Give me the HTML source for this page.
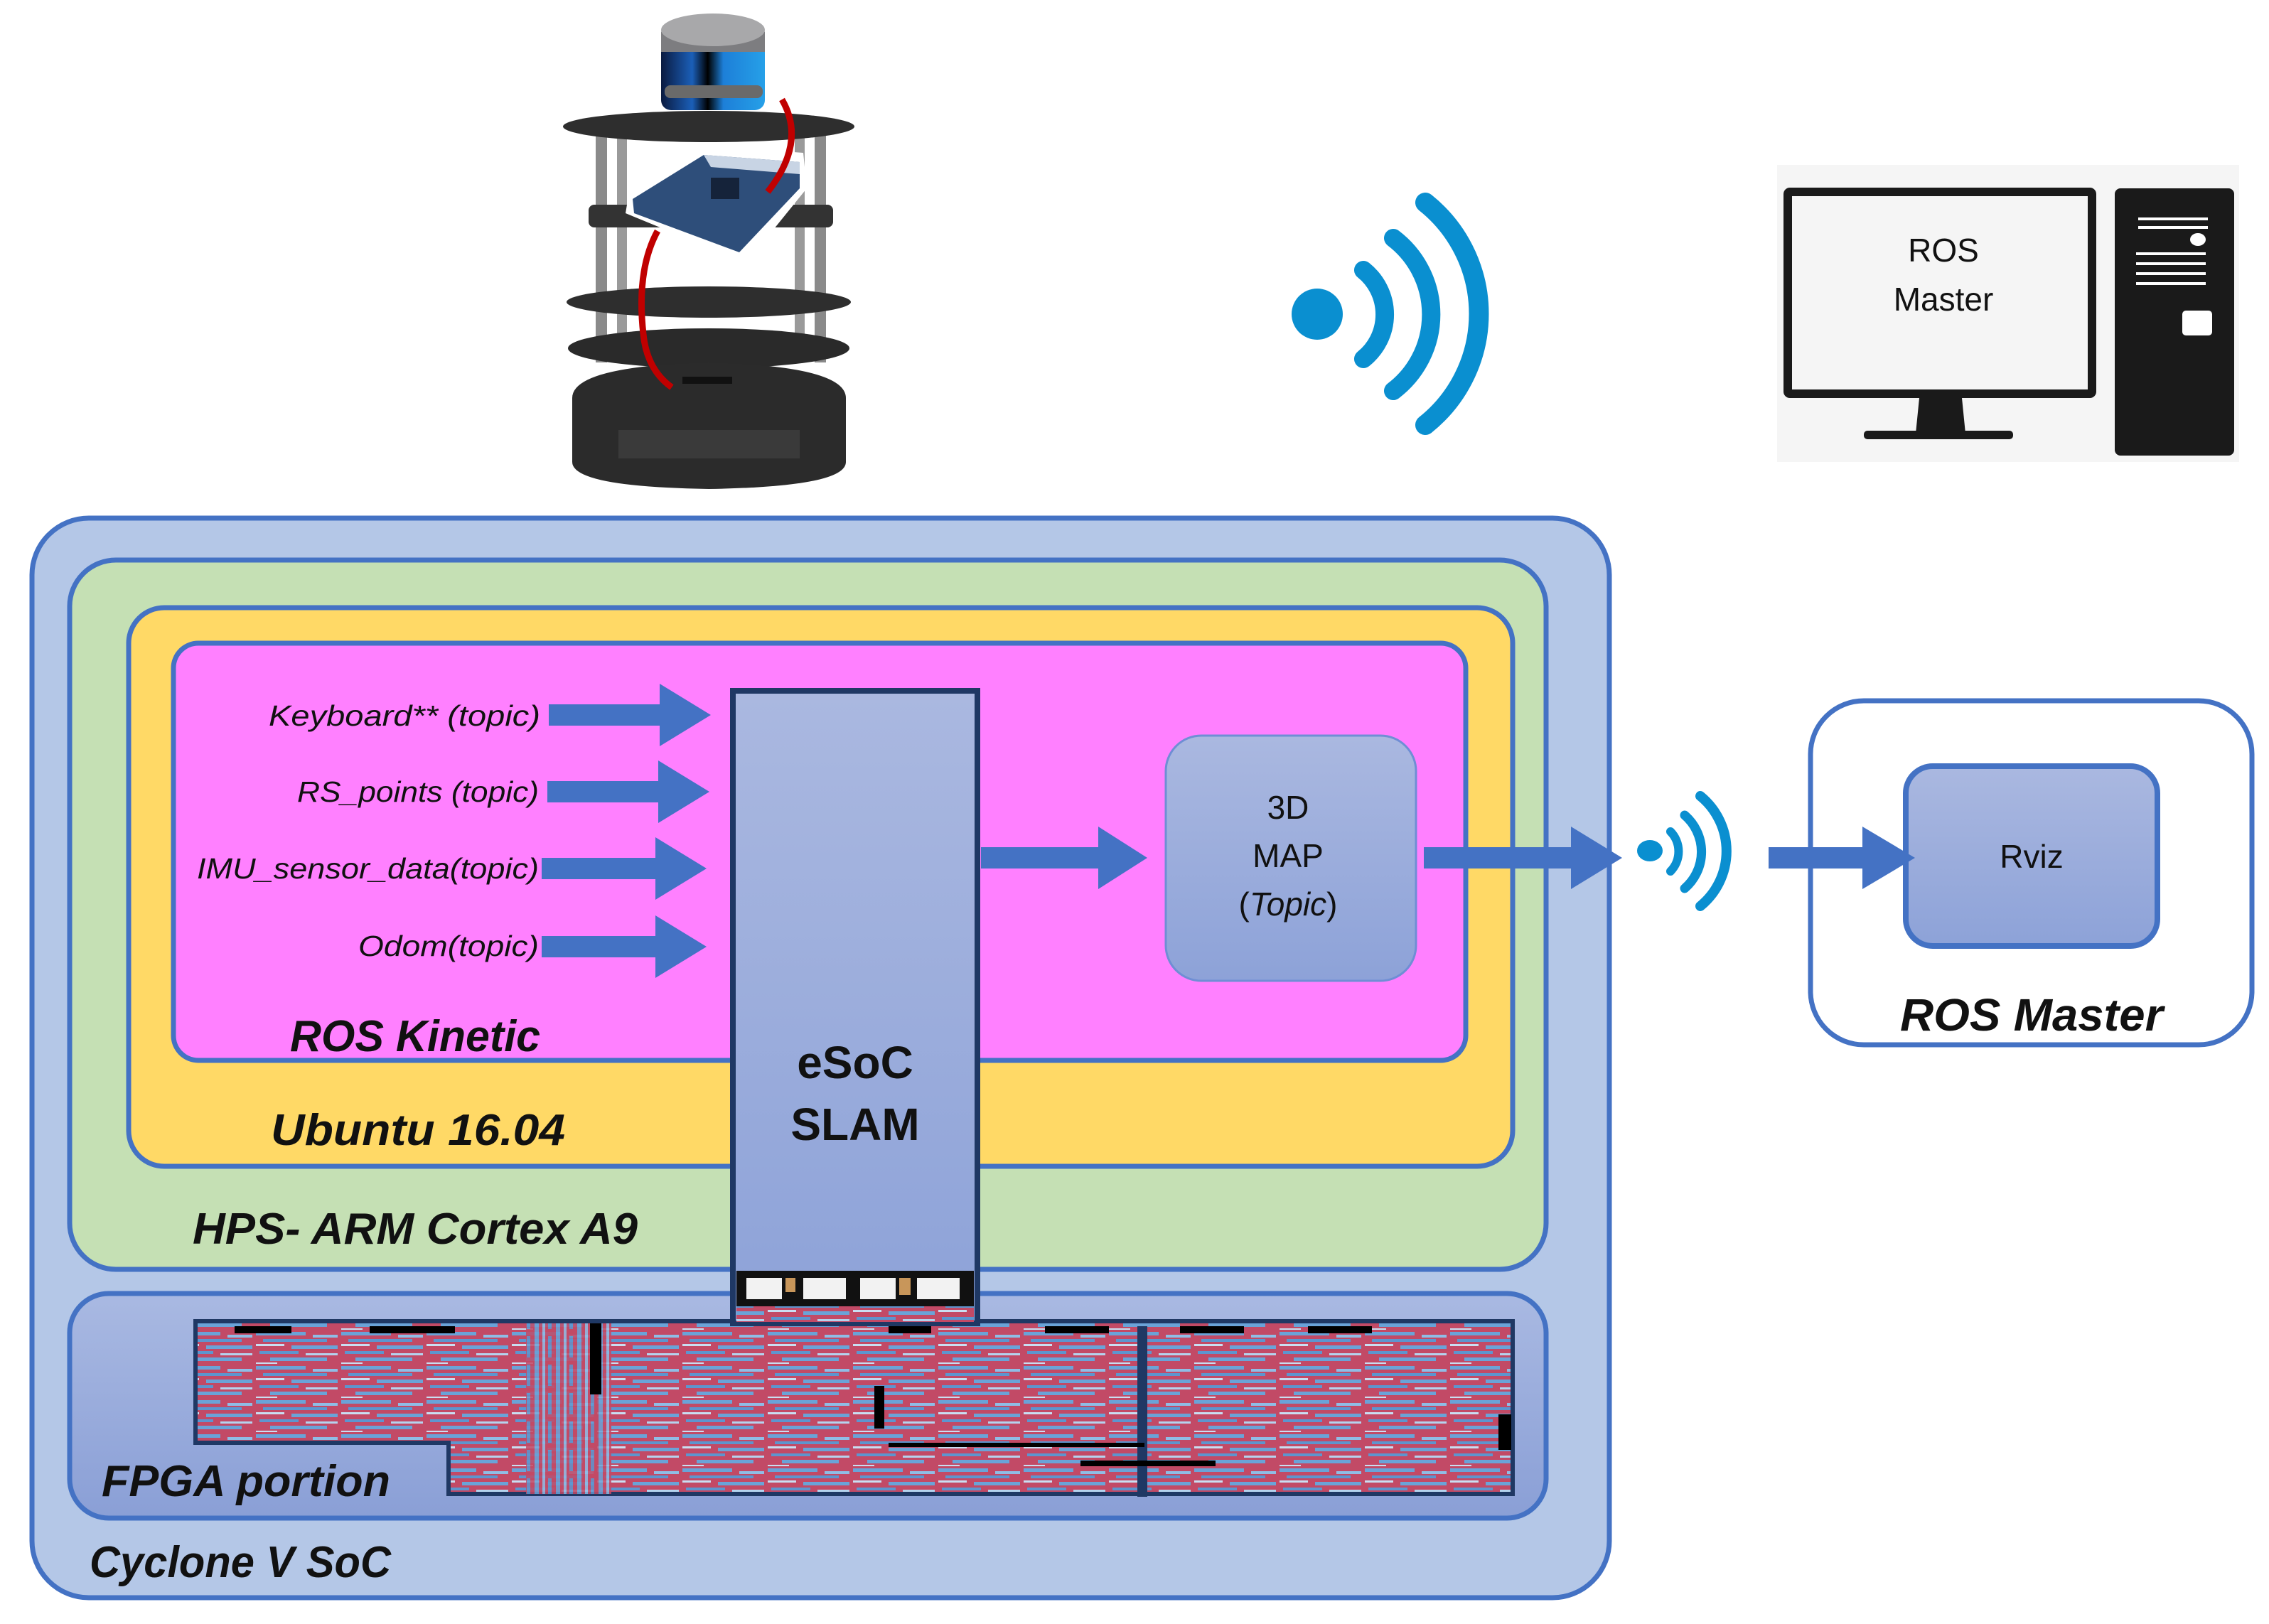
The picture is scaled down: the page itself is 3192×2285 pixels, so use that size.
<!DOCTYPE html>
<html><head><meta charset="utf-8"><style>html,body{margin:0;padding:0;background:#fff}svg{display:block}</style></head>
<body>
<svg width="3192" height="2285" viewBox="0 0 3192 2285" xmlns="http://www.w3.org/2000/svg" font-family="Liberation Sans, sans-serif">
<defs>
<linearGradient id="bl" x1="0" y1="0" x2="0" y2="1"><stop offset="0" stop-color="#aab8e0"/><stop offset="1" stop-color="#8da2d8"/></linearGradient>
<linearGradient id="fp" x1="0" y1="0" x2="0" y2="1"><stop offset="0" stop-color="#a9b9e2"/><stop offset="1" stop-color="#8a9fd6"/></linearGradient>
<linearGradient id="lid" x1="0" y1="0" x2="1" y2="0"><stop offset="0" stop-color="#0a1a40"/><stop offset="0.3" stop-color="#1b5fb8"/><stop offset="0.45" stop-color="#000"/><stop offset="0.6" stop-color="#1d7fd8"/><stop offset="1" stop-color="#26a0e8"/></linearGradient>
<pattern id="fpga" width="120" height="48" patternUnits="userSpaceOnUse">
<rect width="120" height="48" fill="#c24a66"/>
<rect x="0" y="2" width="70" height="5" fill="#6aa3d8"/>
<rect x="80" y="6" width="35" height="4" fill="#8fbde6"/>
<rect x="10" y="12" width="90" height="4" fill="#5d95cf"/>
<rect x="0" y="19" width="40" height="3" fill="#c9def2"/>
<rect x="50" y="21" width="65" height="5" fill="#6aa3d8"/>
<rect x="5" y="29" width="55" height="4" fill="#5d95cf"/>
<rect x="70" y="32" width="45" height="3" fill="#b5d3ee"/>
<rect x="20" y="38" width="80" height="5" fill="#6aa3d8"/>
<rect x="0" y="45" width="30" height="2" fill="#c9def2"/>
</pattern>
<pattern id="fpgav" width="30" height="40" patternUnits="userSpaceOnUse">
<rect width="30" height="40" fill="#c24a66"/>
<rect x="2" y="0" width="6" height="40" fill="#6aa3d8"/>
<rect x="13" y="0" width="4" height="40" fill="#8fbde6"/>
<rect x="21" y="0" width="5" height="30" fill="#5d95cf"/>
</pattern>
</defs>

<!-- Robot -->
<g>
<rect x="786" y="20" width="421" height="672" fill="#fff"/>
<rect x="838" y="180" width="16" height="330" fill="#8a8a8a"/>
<rect x="868" y="180" width="14" height="330" fill="#9a9a9a"/>
<rect x="1118" y="180" width="14" height="330" fill="#9a9a9a"/>
<rect x="1146" y="180" width="16" height="330" fill="#8a8a8a"/>
<ellipse cx="997" cy="178" rx="205" ry="22" fill="#2e2e2e"/>
<rect x="828" y="288" width="344" height="32" rx="8" fill="#333"/>
<ellipse cx="997" cy="425" rx="200" ry="22" fill="#2e2e2e"/>
<ellipse cx="997" cy="490" rx="198" ry="28" fill="#2a2a2a"/>
<path d="M805 560 Q805 515 997 510 Q1190 515 1190 560 L1190 650 Q1190 685 997 688 Q805 685 805 650 Z" fill="#2b2b2b"/>
<rect x="870" y="605" width="255" height="40" fill="#3a3a3a"/>
<rect x="960" y="530" width="70" height="10" fill="#111"/>
<rect x="930" y="45" width="146" height="110" rx="14" fill="url(#lid)"/>
<ellipse cx="1003" cy="45" rx="73" ry="25" fill="#b0b0b0"/>
<rect x="930" y="45" width="146" height="28" fill="#7d7d80"/>
<ellipse cx="1003" cy="42" rx="73" ry="23" fill="#a8a8aa"/>
<rect x="935" y="120" width="138" height="18" rx="8" fill="#6a6a6a"/>
<polygon points="885,270 990,205 1130,215 1135,265 1050,370 880,300" fill="#fff"/>
<polygon points="890,280 990,218 1125,228 1125,265 1040,355 892,300" fill="#2e4e7a"/>
<polygon points="990,218 1125,228 1125,245 1000,235" fill="#c8d4e4"/>
<rect x="1000" y="250" width="40" height="30" fill="#15233a"/>
<path d="M1100 140 Q1135 200 1080 270" stroke="#c00000" stroke-width="9" fill="none"/>
<path d="M925 325 Q895 380 905 470 Q910 520 945 545" stroke="#c00000" stroke-width="9" fill="none"/>
</g>

<!-- big wifi -->
<g fill="none" stroke="#0a8fd0" stroke-linecap="round">
<circle cx="1853" cy="442" r="36" fill="#0a8fd0" stroke="none"/>
<path d="M1918 380 A80 80 0 0 1 1918 505" stroke-width="26"/>
<path d="M1960 335 A135 135 0 0 1 1960 550" stroke-width="26"/>
<path d="M2005 285 A200 200 0 0 1 2005 598" stroke-width="28"/>
</g>

<!-- Computer -->
<rect x="2500" y="232" width="650" height="418" fill="#f5f5f5"/>
<rect x="2515" y="270" width="428" height="284" fill="#f5f5f5" stroke="#1a1a1a" stroke-width="12" rx="3"/>
<polygon points="2700,560 2760,560 2765,610 2695,610" fill="#1a1a1a"/>
<rect x="2622" y="606" width="210" height="12" rx="5" fill="#1a1a1a"/>
<rect x="2975" y="265" width="168" height="376" rx="8" fill="#1a1a1a"/>
<g fill="#fff"><rect x="3008" y="306" width="98" height="4"/><rect x="3008" y="318" width="98" height="4"/>
<ellipse cx="3092" cy="337" rx="11" ry="9"/>
<rect x="3005" y="355" width="98" height="4"/><rect x="3005" y="369" width="98" height="4"/><rect x="3005" y="383" width="98" height="4"/><rect x="3005" y="397" width="98" height="4"/>
<rect x="3070" y="437" width="42" height="35" rx="5"/></g>
<text x="2734" y="368" font-size="46" text-anchor="middle" fill="#111">ROS</text>
<text x="2734" y="437" font-size="46" text-anchor="middle" fill="#111">Master</text>

<rect x="45" y="729" width="2219" height="1519" rx="80" fill="#b4c7e7" stroke="#4472c4" stroke-width="7"/>
<rect x="98" y="788" width="2077" height="998" rx="65" fill="#c5e0b4" stroke="#4472c4" stroke-width="7"/>
<rect x="181" y="855" width="1947" height="786" rx="50" fill="#ffd966" stroke="#4472c4" stroke-width="7"/>
<rect x="244" y="905" width="1818" height="587" rx="35" fill="#ff80ff" stroke="#4472c4" stroke-width="7"/>
<rect x="98" y="1820" width="2077" height="316" rx="55" fill="url(#fp)" stroke="#4472c4" stroke-width="7"/>

<path d="M275 1859 L2128 1859 L2128 2102 L631 2102 L631 2030 L275 2030 Z" fill="url(#fpga)" stroke="#1f3864" stroke-width="6"/>
<rect x="740" y="1862" width="120" height="240" fill="url(#fpgav)" opacity="0.85"/>
<rect x="830" y="1862" width="16" height="100" fill="#000"/>
<rect x="330" y="1866" width="80" height="10" fill="#000"/><rect x="520" y="1866" width="120" height="10" fill="#000"/>
<rect x="1230" y="1950" width="14" height="60" fill="#000"/><rect x="1600" y="1866" width="14" height="240" fill="#1f3864"/>
<rect x="1250" y="1866" width="60" height="10" fill="#000"/><rect x="1470" y="1866" width="90" height="10" fill="#000"/>
<rect x="1660" y="1866" width="90" height="10" fill="#000"/><rect x="1840" y="1866" width="90" height="10" fill="#000"/>
<rect x="2108" y="1990" width="18" height="50" fill="#000"/>
<rect x="1520" y="2055" width="190" height="8" fill="#000"/>
<rect x="1250" y="2030" width="360" height="6" fill="#000"/>

<rect x="1031" y="972" width="344" height="890" fill="url(#bl)" stroke="#1f3864" stroke-width="8"/>
<rect x="1036" y="1788" width="334" height="50" fill="#111"/>
<g fill="#f2f2f2"><rect x="1050" y="1798" width="50" height="30"/><rect x="1130" y="1798" width="60" height="30"/><rect x="1210" y="1798" width="50" height="30"/><rect x="1290" y="1798" width="60" height="30"/></g>
<g fill="#c8965a"><rect x="1105" y="1798" width="14" height="20"/><rect x="1265" y="1798" width="16" height="24"/></g>
<rect x="1036" y="1838" width="334" height="22" fill="url(#fpga)"/>
<text x="1203" y="1517" font-size="64" font-weight="bold" text-anchor="middle" fill="#111">eSoC</text>
<text x="1203" y="1604" font-size="64" font-weight="bold" text-anchor="middle" fill="#111">SLAM</text>

<rect x="1640" y="1035" width="352" height="345" rx="50" fill="url(#bl)" stroke="#6f8ed4" stroke-width="3"/>
<text x="1812" y="1152" font-size="46" text-anchor="middle" fill="#111">3D</text>
<text x="1812" y="1220" font-size="46" text-anchor="middle" fill="#111">MAP</text>
<text x="1812" y="1288" font-size="46" text-anchor="middle" fill="#111">(<tspan font-style="italic">Topic</tspan>)</text>

<!-- ROS Master box -->
<rect x="2547" y="986" width="621" height="484" rx="75" fill="#fff" stroke="#4472c4" stroke-width="7"/>
<rect x="2681" y="1078" width="354" height="253" rx="38" fill="url(#bl)" stroke="#4472c4" stroke-width="8"/>
<text x="2858" y="1221" font-size="46" text-anchor="middle" fill="#111">Rviz</text>
<text x="2858" y="1450" font-size="64" font-weight="bold" font-style="italic" text-anchor="middle" fill="#111" textLength="370" lengthAdjust="spacingAndGlyphs">ROS Master</text>

<g fill="#4472c4">
<polygon points="772,991 928,991 928,962 1000,1006 928,1050 928,1021 772,1021"/>
<polygon points="770,1099 926,1099 926,1070 998,1114 926,1158 926,1129 770,1129"/>
<polygon points="762,1207 922,1207 922,1178 994,1222 922,1266 922,1237 762,1237"/>
<polygon points="762,1317 922,1317 922,1288 994,1332 922,1376 922,1347 762,1347"/>
<polygon points="1380,1192 1545,1192 1545,1163 1614,1207 1545,1251 1545,1222 1380,1222"/>
<polygon points="2003,1192 2210,1192 2210,1163 2282,1207 2210,1251 2210,1222 2003,1222"/>
<polygon points="2488,1192 2620,1192 2620,1163 2694,1207 2620,1251 2620,1222 2488,1222"/>
</g>
<g font-style="italic" font-size="41" fill="#111" text-anchor="end">
<text x="760" y="1021" textLength="382" lengthAdjust="spacingAndGlyphs">Keyboard** (topic)</text>
<text x="758" y="1128" textLength="340" lengthAdjust="spacingAndGlyphs">RS_points (topic)</text>
<text x="758" y="1236" textLength="481" lengthAdjust="spacingAndGlyphs">IMU_sensor_data(topic)</text>
<text x="758" y="1345" textLength="254" lengthAdjust="spacingAndGlyphs">Odom(topic)</text>
</g>
<g font-style="italic" font-weight="bold" font-size="62" fill="#111">
<text x="408" y="1479" textLength="352" lengthAdjust="spacingAndGlyphs">ROS Kinetic</text>
<text x="381" y="1611" textLength="414" lengthAdjust="spacingAndGlyphs">Ubuntu 16.04</text>
<text x="271" y="1750" textLength="626" lengthAdjust="spacingAndGlyphs">HPS- ARM Cortex A9</text>
<text x="143" y="2105" textLength="406" lengthAdjust="spacingAndGlyphs">FPGA portion</text>
<text x="126" y="2219" textLength="424" lengthAdjust="spacingAndGlyphs">Cyclone V SoC</text>
</g>

<g fill="none" stroke="#0a8fd0" stroke-linecap="round">
<ellipse cx="2321" cy="1197" rx="18" ry="15" fill="#0a8fd0" stroke="none"/>
<path d="M2350 1170 A40 40 0 0 1 2350 1226" stroke-width="12"/>
<path d="M2370 1147 A68 68 0 0 1 2370 1250" stroke-width="13"/>
<path d="M2392 1120 A100 100 0 0 1 2392 1275" stroke-width="14"/>
</g>
</svg>
</body></html>
